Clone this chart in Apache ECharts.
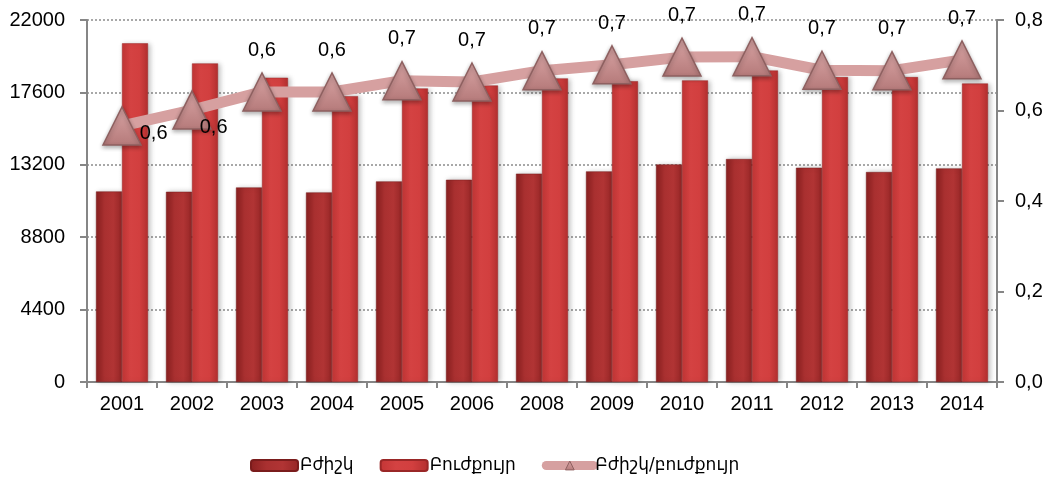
<!DOCTYPE html>
<html>
<head>
<meta charset="utf-8">
<script src="https://cdn.jsdelivr.net/npm/echarts@6/dist/echarts.min.js"></script>
<style>
  html, body { margin: 0; padding: 0; background: #fff; }
  #chart { width: 1046px; height: 479px; }
</style>
</head>
<body>
<div id="chart"></div>
<script>
// Years on the category axis
const years = ['2001', '2002', '2003', '2004', '2005', '2006', '2008', '2009', '2010', '2011', '2012', '2013', '2014'];

// Number of doctors (Բժիշկ)
const doctors = [11580, 11560, 11820, 11520, 12190, 12290, 12660, 12800, 13220, 13550, 13020, 12760, 12980];

// Number of nurses (Բուժքույր)
const nurses = [20580, 19360, 18490, 17370, 17840, 18020, 18450, 18280, 18330, 18930, 18530, 18530, 18140];

// Doctor-to-nurse ratio (Բժիշկ/բուժքույր)
const ratio = [0.566, 0.601, 0.641, 0.641, 0.666, 0.663, 0.688, 0.701, 0.718, 0.719, 0.689, 0.688, 0.712];

// Axis tick values
const leftTicks = [0, 4400, 8800, 13200, 17600, 22000];
const rightTicks = [0, 0.2, 0.4, 0.6, 0.8];

const names = ['Բժիշկ', 'Բուժքույր', 'Բժիշկ/բուժքույր'];

const comma = (v, d) => v.toFixed(d).replace('.', ',');

const chart = echarts.init(document.getElementById('chart'), null, { renderer: 'canvas' });

const axisFont = { fontFamily: 'Liberation Sans, Arial, sans-serif', fontSize: 20, color: '#000' };
const greyLine = { lineStyle: { color: '#868686', width: 2 } };

function hGrad(stops) {
  return new echarts.graphic.LinearGradient(0, 0, 1, 0, stops.map((c, i) => ({ offset: i / (stops.length - 1), color: c })));
}

// Label placement: the first two sit to the right of their markers, the rest above
const ratioData = ratio.map((v, i) => {
  if (i === 0) return { value: v, label: { position: 'right', distance: -2, offset: [0, 8] } };
  if (i === 1) return { value: v, label: { position: 'right', distance: -12, offset: [0, 17] } };
  return v;
});

const lineColor = '#d6a0a0';

chart.setOption({
  animation: false,
  backgroundColor: '#fff',
  grid: { left: 87, right: 49, top: 20, bottom: 97, containLabel: false },
  legend: {
    left: 245,
    top: 452,
    itemWidth: 47,
    itemHeight: 11,
    itemGap: 26,
    textStyle: { fontFamily: 'DejaVu Sans, sans-serif', fontSize: 17, color: '#000', padding: [0, 0, 0, -3] },
    data: [
      names[0],
      names[1],
      { name: names[2], lineStyle: { width: 9, color: lineColor, cap: 'round' }, itemStyle: { borderWidth: 1 } }
    ]
  },
  xAxis: {
    type: 'category',
    data: years,
    axisLine: greyLine,
    axisTick: { show: true, length: 6, lineStyle: { color: '#868686', width: 2 } },
    axisLabel: Object.assign({ margin: 12 }, axisFont)
  },
  yAxis: [
    {
      type: 'value',
      min: leftTicks[0],
      max: leftTicks[leftTicks.length - 1],
      interval: leftTicks[1] - leftTicks[0],
      axisLine: Object.assign({ show: true }, greyLine),
      axisTick: { show: true, length: 7, lineStyle: { color: '#868686', width: 2 } },
      axisLabel: Object.assign({ margin: 22, formatter: v => String(v) }, axisFont),
      splitLine: { show: true, lineStyle: { color: '#8c8c8c', type: [2, 2], width: 1.5 } }
    },
    {
      type: 'value',
      min: rightTicks[0],
      max: rightTicks[rightTicks.length - 1],
      interval: rightTicks[1] - rightTicks[0],
      position: 'right',
      axisLine: Object.assign({ show: true }, greyLine),
      axisTick: { show: true, length: 7, lineStyle: { color: '#868686', width: 2 } },
      axisLabel: Object.assign({ margin: 18, formatter: v => comma(v, 1) }, axisFont),
      splitLine: { show: false }
    }
  ],
  series: [
    {
      name: names[0],
      type: 'bar',
      data: doctors,
      barWidth: 26,
      barGap: '0%',
      itemStyle: {
        color: hGrad(['#8a2020', '#a93030', '#b13434', '#962626']),
        borderColor: '#7a1c1c',
        borderWidth: 0.5,
        shadowColor: 'rgba(0,0,0,0.25)',
        shadowBlur: 5,
        shadowOffsetX: 2
      }
    },
    {
      name: names[1],
      type: 'bar',
      data: nurses,
      barWidth: 26,
      itemStyle: {
        color: hGrad(['#c33535', '#d44242', '#d23f3f', '#b32f2f']),
        borderColor: '#9a2727',
        borderWidth: 0.5,
        shadowColor: 'rgba(0,0,0,0.25)',
        shadowBlur: 5,
        shadowOffsetX: 2
      }
    },
    {
      name: names[2],
      type: 'line',
      yAxisIndex: 1,
      data: ratioData,
      z: 5,
      symbol: 'triangle',
      symbolSize: [38, 38],
      lineStyle: { color: lineColor, width: 11, cap: 'round', join: 'round' },
      itemStyle: {
        color: new echarts.graphic.LinearGradient(0, 0, 0, 1, [
          { offset: 0, color: '#d9a5a5' },
          { offset: 1, color: '#b57a7a' }
        ]),
        borderColor: '#8e6060',
        borderWidth: 1.5,
        shadowColor: 'rgba(0,0,0,0.3)',
        shadowBlur: 4,
        shadowOffsetY: 2
      },
      label: {
        show: true,
        position: 'top',
        distance: 12,
        formatter: p => comma(p.value, 1),
        fontFamily: 'Liberation Sans, Arial, sans-serif',
        fontSize: 20,
        color: '#000'
      }
    }
  ]
});
</script>
</body>
</html>
